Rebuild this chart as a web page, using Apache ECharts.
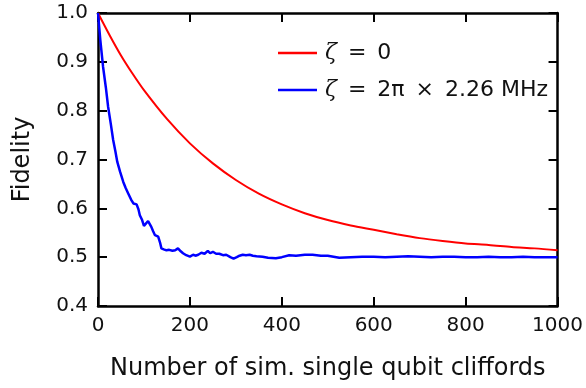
<!DOCTYPE html>
<html>
<head>
<meta charset="utf-8">
<script src="https://cdn.jsdelivr.net/npm/echarts@6/dist/echarts.min.js"></script>
<style>html,body{margin:0;padding:0;background:#fff}#c{width:586px;height:388px}</style>
</head>
<body>
<div id="c"></div>
<script>
var xTicks = [0, 200, 400, 600, 800, 1000];
var yTicks = [0.4, 0.5, 0.6, 0.7, 0.8, 0.9, 1.0];

var redX = [0, 25, 50, 75, 100, 150, 200, 250, 300, 350, 400, 450, 500, 550, 600, 650, 700, 750, 800, 850, 900, 950, 1000];
var redY = [1.000, 0.955, 0.913, 0.876, 0.842, 0.783, 0.733, 0.692, 0.658, 0.630, 0.608, 0.590, 0.576, 0.565, 0.556, 0.547, 0.539, 0.533, 0.528, 0.525, 0.521, 0.518, 0.514];

var blueX = [0, 5, 11, 17, 22, 28, 33, 38, 42, 48, 55, 60, 66, 72, 77, 84, 88, 91, 96, 100, 104, 109, 113, 116, 120, 124, 128, 131, 135, 138, 143, 149, 155, 162, 168, 174, 180, 185, 192, 200, 207, 212, 218, 225, 232, 239, 244, 250, 257, 264, 272, 279, 288, 295, 302, 308, 315, 322, 330, 337, 345, 358, 370, 387, 400, 416, 431, 450, 467, 485, 500, 525, 550, 575, 600, 625, 650, 675, 700, 725, 750, 775, 800, 825, 850, 875, 900, 925, 950, 975, 1000];
var blueY = [1.0, 0.945, 0.890, 0.848, 0.808, 0.772, 0.740, 0.716, 0.695, 0.675, 0.654, 0.642, 0.630, 0.618, 0.610, 0.608, 0.598, 0.586, 0.576, 0.564, 0.566, 0.574, 0.570, 0.562, 0.553, 0.545, 0.545, 0.542, 0.530, 0.518, 0.516, 0.514, 0.515, 0.513, 0.514, 0.518, 0.512, 0.508, 0.504, 0.501, 0.505, 0.503, 0.505, 0.509, 0.507, 0.513, 0.508, 0.511, 0.507, 0.507, 0.504, 0.505, 0.500, 0.497, 0.500, 0.503, 0.505, 0.504, 0.505, 0.503, 0.502, 0.501, 0.499, 0.498, 0.500, 0.504, 0.503, 0.505, 0.505, 0.503, 0.503, 0.499, 0.500, 0.501, 0.501, 0.500, 0.501, 0.502, 0.501, 0.500, 0.501, 0.501, 0.500, 0.500, 0.501, 0.500, 0.500, 0.501, 0.500, 0.500, 0.500];

var seriesNames = ['zeta0', 'zeta1'];
var legendLabels = {zeta0: '{z|ζ}\u2002=\u20020', zeta1: '{z|ζ}\u2002=\u20022π\u2002×\u20022.26 MHz'};

function pairs(xs, ys) { return xs.map(function (x, i) { return [x, ys[i]]; }); }

var FONT = 'DejaVu Sans';
var chart = echarts.init(document.getElementById('c'), null, {renderer: 'canvas'});
function axLine() { return {show: true, onZero: false, lineStyle: {color: '#000', width: 2.5}}; }
// labelled axes: ticks pointed inward via negative length
function tickIn() { return {show: true, inside: false, length: -9, lineStyle: {color: '#000', width: 2}}; }
// unlabelled mirror axes
function tickMirror() { return {show: true, inside: true, length: 9, lineStyle: {color: '#000', width: 2}}; }

chart.setOption({
  animation: false,
  backgroundColor: '#fff',
  grid: {left: 98, right: 27, top: 13, bottom: 82, containLabel: false},
  legend: {
    orient: 'vertical',
    left: 278, top: 42, padding: 0,
    itemWidth: 39, itemHeight: 2.5,
    itemGap: 15,
    icon: 'rect',
    data: seriesNames,
    formatter: function (n) { return legendLabels[n]; },
    textStyle: {
      fontFamily: FONT, fontSize: 22, color: '#111', padding: [0, 0, 0, 3], lineHeight: 22,
      rich: {z: {fontFamily: 'DejaVu Serif', fontStyle: 'italic', fontSize: 22, color: '#111'}}
    }
  },
  xAxis: [{
    type: 'value', min: 0, max: 1000, interval: 200, position: 'bottom', offset: 0,
    axisLine: axLine(), axisTick: tickIn(), splitLine: {show: false},
    axisLabel: {fontFamily: FONT, fontSize: 20, color: '#111', margin: 10,
      formatter: function (v) { return xTicks.indexOf(v) >= 0 ? String(v) : ''; }},
    name: 'Number of sim. single qubit cliffords', nameLocation: 'middle', nameGap: 51,
    nameTextStyle: {fontFamily: FONT, fontSize: 24, color: '#111'}
  }, {
    type: 'value', min: 0, max: 1000, interval: 200, position: 'top', offset: 0,
    axisLine: axLine(), axisTick: tickMirror(), splitLine: {show: false}, axisLabel: {show: false}
  }],
  yAxis: [{
    type: 'value', min: 0.4, max: 1.0, interval: 0.1, position: 'left', offset: 0,
    axisLine: axLine(), axisTick: tickIn(), splitLine: {show: false},
    axisLabel: {fontFamily: FONT, fontSize: 20, color: '#111', margin: 10,
      formatter: function (v) { var r = Math.round(v * 10) / 10; return yTicks.indexOf(r) >= 0 ? r.toFixed(1) : ''; }},
    name: 'Fidelity', nameLocation: 'middle', nameGap: 63, nameRotate: 90,
    nameTextStyle: {fontFamily: FONT, fontSize: 24, color: '#111'}
  }, {
    type: 'value', min: 0.4, max: 1.0, interval: 0.1, position: 'right', offset: 0,
    axisLine: axLine(), axisTick: tickMirror(), splitLine: {show: false}, axisLabel: {show: false}
  }],
  series: [{
    name: 'zeta0', type: 'line', data: pairs(redX, redY), showSymbol: false, smooth: 0.3,
    lineStyle: {color: '#ff0000', width: 2}, itemStyle: {color: '#ff0000'}, xAxisIndex: 0, yAxisIndex: 0
  }, {
    name: 'zeta1', type: 'line', data: pairs(blueX, blueY), showSymbol: false,
    lineStyle: {color: '#0000ff', width: 2.5}, itemStyle: {color: '#0000ff'}, xAxisIndex: 0, yAxisIndex: 0
  }]
});
</script>
</body>
</html>
